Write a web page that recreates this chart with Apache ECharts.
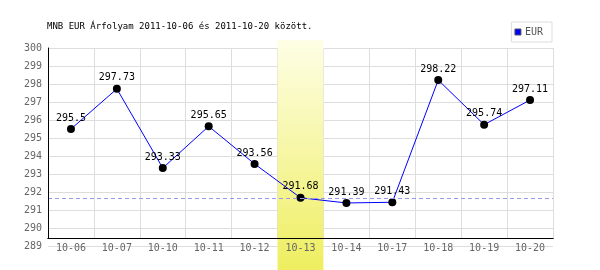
<!DOCTYPE html>
<html>
<head>
<meta charset="utf-8">
<script src="https://cdn.jsdelivr.net/npm/echarts@6/dist/echarts.min.js"></script>
<style>
html,body{margin:0;padding:0;background:#fff;}
#c{width:600px;height:270px;}
</style>
</head>
<body>
<div id="c"></div>
<script>
var titleText = 'MNB EUR Árfolyam 2011-10-06 és 2011-10-20 között.';
var seriesName = 'EUR';
var categories = ['10-06','10-07','10-10','10-11','10-12','10-13','10-14','10-17','10-18','10-19','10-20'];
var values = [295.5, 297.73, 293.33, 295.65, 293.56, 291.68, 291.39, 291.43, 298.22, 295.74, 297.11];
var highlightCategory = '10-13';
var yMin = 289, yMax = 300, yStep = 1;

var highlightIndex = categories.indexOf(highlightCategory);
var bandData = categories.map(function (c, i) { return i === highlightIndex ? 1 : '-'; });
var refValue = values[highlightIndex];

var mono = 'DejaVu Sans Mono';
var chart = echarts.init(document.getElementById('c'), null, {renderer: 'canvas'});
chart.setOption({
  animation: false,
  backgroundColor: '#fff',
  title: {
    text: titleText, left: 42, top: 17,
    textStyle: {fontFamily: mono, fontSize: 9, fontWeight: 'normal', color: '#000'}
  },
  legend: {
    data: [seriesName], right: 48, top: 22,
    padding: [5, 9, 5, 3], borderColor: '#ddd', borderWidth: 1,
    icon: 'rect', itemWidth: 6, itemHeight: 6, itemGap: 4,
    itemStyle: {color: '#0000ff', borderColor: '#555', borderWidth: 1},
    textStyle: {fontFamily: mono, fontSize: 10, color: '#555', padding: [0,0,0,-1]}
  },
  grid: [
    {left: 48, top: 48, width: 505, height: 198},
    {left: 48, top: 48, width: 505, height: 190},
    {left: 48, top: 40, width: 505, height: 230}
  ],
  xAxis: [
    {gridIndex: 0, type: 'category', data: categories, boundaryGap: true,
     axisLine: {show: false}, axisTick: {show: false}, axisLabel: {show: false}, splitLine: {show: false}},
    {gridIndex: 1, type: 'category', data: categories, boundaryGap: true, z: 0,
     axisLine: {show: true, lineStyle: {color: '#000', width: 1}}, axisTick: {show: false},
     axisLabel: {show: false},
     splitLine: {show: true, lineStyle: {color: '#ddd', width: 1}}},
    {gridIndex: 2, type: 'category', data: categories, boundaryGap: true, show: false},
    {gridIndex: 1, type: 'category', data: categories, boundaryGap: true, position: 'bottom', offset: 0, z: 5,
     axisLine: {show: true, lineStyle: {color: '#000', width: 1}}, axisTick: {show: false},
     axisLabel: {fontFamily: mono, fontSize: 10, color: '#666', margin: 5},
     splitLine: {show: false}}
  ],
  yAxis: [
    {gridIndex: 0, type: 'value', min: yMin, max: yMax, interval: yStep,
     axisLine: {show: false}, axisTick: {show: false},
     axisLabel: {fontFamily: mono, fontSize: 10, color: '#666', margin: 6},
     splitLine: {show: true, lineStyle: {color: '#ddd', width: 1}}},
    {gridIndex: 1, type: 'value', min: 0, max: 1, z: 5,
     axisLine: {show: true, lineStyle: {color: '#000', width: 1}}, axisTick: {show: false},
     axisLabel: {show: false}, splitLine: {show: false}},
    {gridIndex: 2, type: 'value', min: 0, max: 1, show: false}
  ],
  series: [
    {
      type: 'bar', xAxisIndex: 2, yAxisIndex: 2, data: bandData, barWidth: '100%', z: 1, silent: true,
      itemStyle: {color: new echarts.graphic.LinearGradient(0, 0, 0, 1, [
        {offset: 0, color: '#fefee6'}, {offset: 1, color: '#eeee60'}])}
    },
    {
      name: seriesName, type: 'line', xAxisIndex: 0, yAxisIndex: 0, data: values, z: 3,
      lineStyle: {color: '#0000ff', width: 1}, color: '#0000ff',
      symbol: 'circle', symbolSize: 8, itemStyle: {color: '#000'},
      label: {show: true, position: 'top', distance: 2, fontFamily: mono, fontSize: 10, color: '#000'},
      markLine: {
        silent: true, symbol: 'none', label: {show: false},
        lineStyle: {color: '#9999ee', type: [4, 3], width: 1},
        data: [{yAxis: refValue}]
      }
    }
  ]
});
</script>
</body>
</html>
